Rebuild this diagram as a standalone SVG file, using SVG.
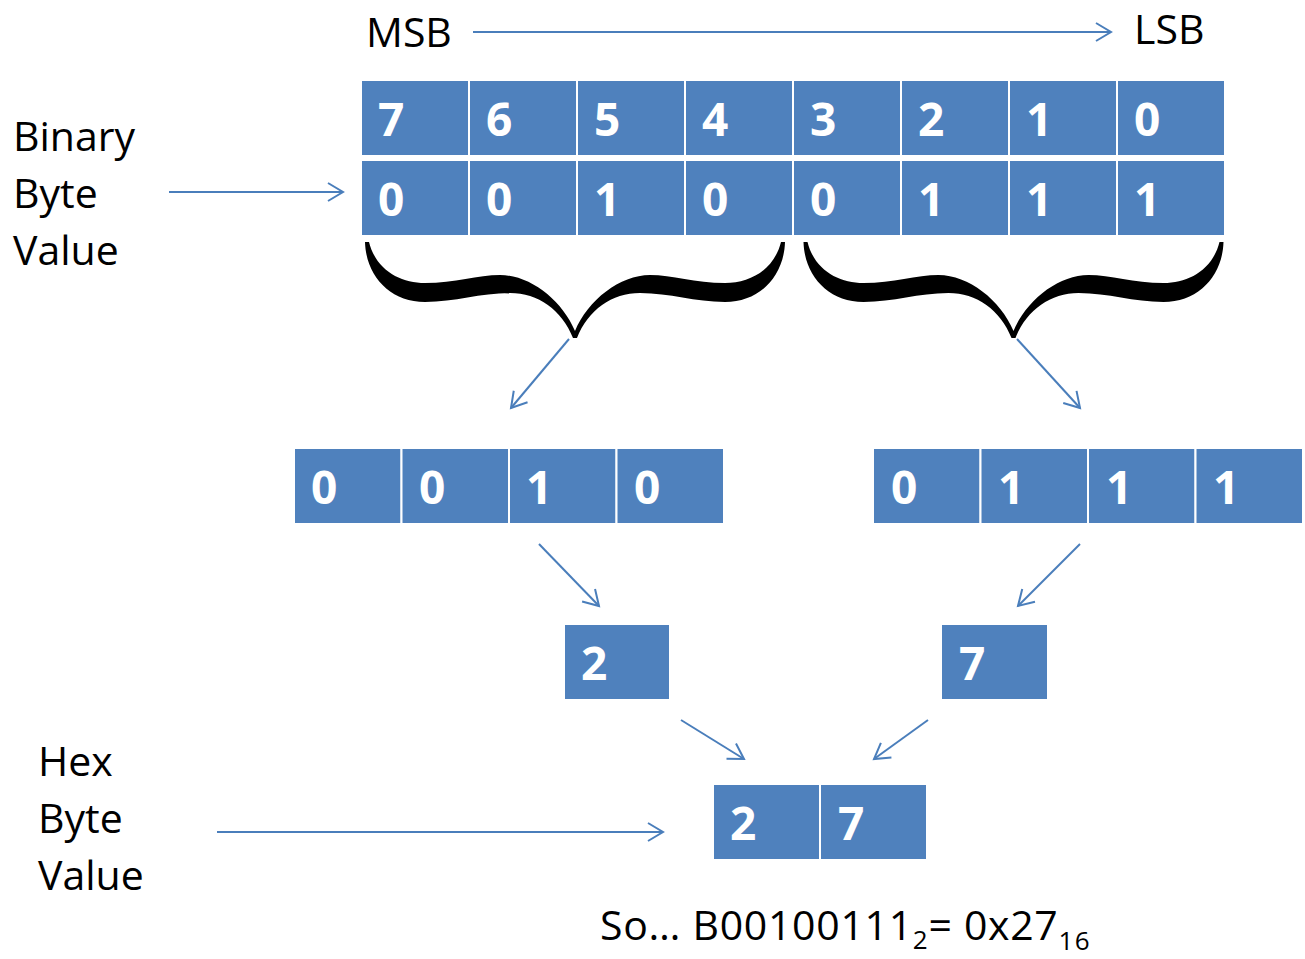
<svg xmlns="http://www.w3.org/2000/svg" width="1305" height="959" viewBox="0 0 1305 959">
<style>
.cell{fill:#4F81BD;stroke:#FFFFFF;stroke-width:2}
.dig{font-family:"Open Sans","Liberation Sans",sans-serif;font-weight:bold;font-size:46px;fill:#FFFFFF}
.lbl{font-family:"Open Sans","Liberation Sans",sans-serif;font-size:41px;fill:#000000}
.arr{fill:none;stroke:#4A7EBB;stroke-width:2;marker-end:url(#ah)}
.brace{fill:#000000}
</style>
<defs>
<marker id="ah" markerUnits="userSpaceOnUse" markerWidth="40" markerHeight="40" refX="0" refY="0" orient="auto" overflow="visible" viewBox="-20 -20 40 40">
<path d="M -15,-9 L 0,0 L -15,9" fill="none" stroke="#4A7EBB" stroke-width="2"/>
</marker>
<path id="bracePath" d="M -206,0 C -199,28 -175,41 -150,41 C -120,41 -97,33 -75,33 C -45,33 -13,58 0,89 C 13,58 45,33 75,33 C 97,33 120,41 150,41 C 175,41 199,28 206,0 L 210,0 C 209,34 185,60 150,60 C 120,60 95,51 65,51 C 37,51 13,68 2,96 L -2,96 C -13,68 -37,51 -65,51 C -95,51 -120,60 -150,60 C -185,60 -209,34 -210,0 Z"/>
</defs>

<g id="labels">
<text class="lbl" x="366" y="47">MSB</text>
<text class="lbl" x="1134" y="44">LSB</text>
<text class="lbl" x="13" y="151">Binary</text>
<text class="lbl" x="13" y="208">Byte</text>
<text class="lbl" x="13" y="265">Value</text>
<text class="lbl" x="38" y="776">Hex</text>
<text class="lbl" x="38" y="833">Byte</text>
<text class="lbl" x="38" y="890">Value</text>
<text class="lbl" x="600" y="940" letter-spacing="0.7">So… B00100111<tspan font-size="26" dy="9">2</tspan><tspan dy="-9">= 0x27</tspan><tspan font-size="26" dy="10" letter-spacing="1.5">16</tspan></text>
</g>

<g id="bit-positions">
<g id="pos7"><rect class="cell" x="361" y="80" width="108" height="76"/><text class="dig" x="378" y="136">7</text></g>
<g id="pos6"><rect class="cell" x="469" y="80" width="108" height="76"/><text class="dig" x="486" y="136">6</text></g>
<g id="pos5"><rect class="cell" x="577" y="80" width="108" height="76"/><text class="dig" x="594" y="136">5</text></g>
<g id="pos4"><rect class="cell" x="685" y="80" width="108" height="76"/><text class="dig" x="702" y="136">4</text></g>
<g id="pos3"><rect class="cell" x="793" y="80" width="108" height="76"/><text class="dig" x="810" y="136">3</text></g>
<g id="pos2"><rect class="cell" x="901" y="80" width="108" height="76"/><text class="dig" x="918" y="136">2</text></g>
<g id="pos1"><rect class="cell" x="1009" y="80" width="108" height="76"/><text class="dig" x="1026" y="136">1</text></g>
<g id="pos0"><rect class="cell" x="1117" y="80" width="108" height="76"/><text class="dig" x="1134" y="136">0</text></g>
</g>

<g id="bit-values">
<g id="val7"><rect class="cell" x="361" y="160" width="108" height="76"/><text class="dig" x="378" y="216">0</text></g>
<g id="val6"><rect class="cell" x="469" y="160" width="108" height="76"/><text class="dig" x="486" y="216">0</text></g>
<g id="val5"><rect class="cell" x="577" y="160" width="108" height="76"/><text class="dig" x="594" y="216">1</text></g>
<g id="val4"><rect class="cell" x="685" y="160" width="108" height="76"/><text class="dig" x="702" y="216">0</text></g>
<g id="val3"><rect class="cell" x="793" y="160" width="108" height="76"/><text class="dig" x="810" y="216">0</text></g>
<g id="val2"><rect class="cell" x="901" y="160" width="108" height="76"/><text class="dig" x="918" y="216">1</text></g>
<g id="val1"><rect class="cell" x="1009" y="160" width="108" height="76"/><text class="dig" x="1026" y="216">1</text></g>
<g id="val0"><rect class="cell" x="1117" y="160" width="108" height="76"/><text class="dig" x="1134" y="216">1</text></g>
</g>

<g id="brace-high"><use href="#bracePath" class="brace" transform="translate(575,242)"/></g>
<g id="brace-low"><use href="#bracePath" class="brace" transform="translate(1013.5,242)"/></g>

<g id="high-nibble">
<g id="hn3"><rect class="cell" x="294" y="448" width="107.5" height="76"/><text class="dig" x="311" y="504">0</text></g>
<g id="hn2"><rect class="cell" x="401.5" y="448" width="107.5" height="76"/><text class="dig" x="419" y="504">0</text></g>
<g id="hn1"><rect class="cell" x="509" y="448" width="107.5" height="76"/><text class="dig" x="526" y="504">1</text></g>
<g id="hn0"><rect class="cell" x="616.5" y="448" width="107.5" height="76"/><text class="dig" x="634" y="504">0</text></g>
</g>

<g id="low-nibble">
<g id="ln3"><rect class="cell" x="873" y="448" width="107.5" height="76"/><text class="dig" x="891" y="504">0</text></g>
<g id="ln2"><rect class="cell" x="980.5" y="448" width="107.5" height="76"/><text class="dig" x="998" y="504">1</text></g>
<g id="ln1"><rect class="cell" x="1088" y="448" width="107.5" height="76"/><text class="dig" x="1106" y="504">1</text></g>
<g id="ln0"><rect class="cell" x="1195.5" y="448" width="107.5" height="76"/><text class="dig" x="1213" y="504">1</text></g>
</g>

<g id="hex-high"><rect class="cell" x="564" y="624" width="106" height="76"/><text class="dig" x="581" y="680">2</text></g>
<g id="hex-low"><rect class="cell" x="941" y="624" width="107" height="76"/><text class="dig" x="959" y="680">7</text></g>

<g id="hex-byte">
<g id="hb1"><rect class="cell" x="713" y="784" width="107" height="76"/><text class="dig" x="730" y="840">2</text></g>
<g id="hb0"><rect class="cell" x="820" y="784" width="107" height="76"/><text class="dig" x="838" y="840">7</text></g>
</g>

<g id="connectors">
<line class="arr" x1="473" y1="32" x2="1111" y2="32"/>
<line class="arr" x1="169" y1="192" x2="343" y2="192"/>
<line class="arr" x1="217" y1="832" x2="663" y2="832"/>
<line class="arr" x1="569" y1="339" x2="511" y2="408"/>
<line class="arr" x1="1017" y1="339" x2="1080" y2="408"/>
<line class="arr" x1="539" y1="544" x2="599" y2="606"/>
<line class="arr" x1="1080" y1="544" x2="1018" y2="606"/>
<line class="arr" x1="681" y1="720" x2="744" y2="759"/>
<line class="arr" x1="928" y1="720" x2="874" y2="759"/>
</g>
</svg>
